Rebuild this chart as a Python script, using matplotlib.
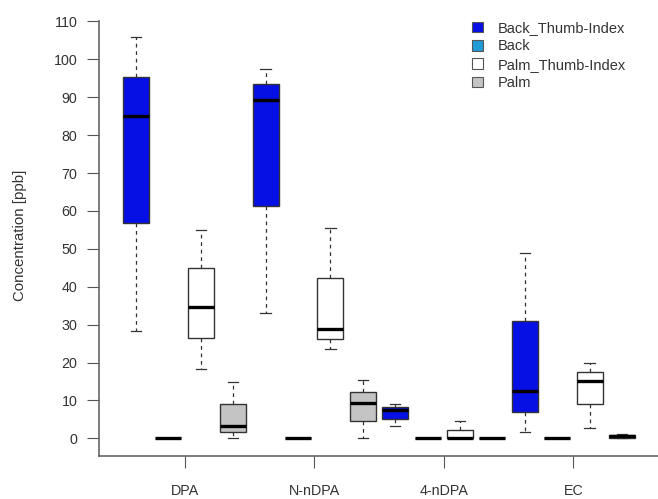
import matplotlib.pyplot as plt
from matplotlib.patches import Patch

plt.rcParams['font.family'] = ['Liberation Sans', 'DejaVu Sans']

groups = ['DPA', 'N-nDPA', '4-nDPA', 'EC']
series = ['Back_Thumb-Index', 'Back', 'Palm_Thumb-Index', 'Palm']
colors = ['#0610E4', '#1E9BD7', '#FFFFFF', '#C4C4C4']

# five-number summaries per group (DPA, N-nDPA, 4-nDPA, EC)
back_ti_lo = [28.3, 33.0, 3.3, 1.7]
back_ti_q1 = [56.9, 61.3, 5.2, 7.0]
back_ti_med = [85.1, 89.4, 7.4, 12.5]
back_ti_q3 = [95.4, 93.4, 8.3, 30.9]
back_ti_hi = [105.8, 97.4, 9.1, 49.0]

back_lo = [0, 0, 0, 0]
back_q1 = [0, 0, 0, 0]
back_med = [0, 0, 0, 0]
back_q3 = [0, 0, 0, 0]
back_hi = [0, 0, 0, 0]

palm_ti_lo = [18.3, 23.5, 0, 2.6]
palm_ti_q1 = [26.5, 26.1, 0, 9.0]
palm_ti_med = [34.6, 28.8, 0.1, 15.1]
palm_ti_q3 = [44.9, 42.2, 2.2, 17.4]
palm_ti_hi = [55.1, 55.5, 4.6, 19.8]

palm_lo = [0, 0, 0, 0]
palm_q1 = [1.7, 4.6, 0, 0.2]
palm_med = [3.3, 9.2, 0, 0.5]
palm_q3 = [9.05, 12.1, 0, 0.9]
palm_hi = [14.9, 15.4, 0, 1.1]

stats_by_series = [
    (back_ti_lo, back_ti_q1, back_ti_med, back_ti_q3, back_ti_hi),
    (back_lo, back_q1, back_med, back_q3, back_hi),
    (palm_ti_lo, palm_ti_q1, palm_ti_med, palm_ti_q3, palm_ti_hi),
    (palm_lo, palm_q1, palm_med, palm_q3, palm_hi),
]

fig = plt.figure(figsize=(6.58, 4.99), dpi=100)
ax = fig.add_axes([99 / 658, 43 / 499, 559 / 658, 0.886])

for g in range(len(groups)):
    for s, (lo, q1, med, q3, hi) in enumerate(stats_by_series):
        pos = 4 * g + s + 1
        st = [dict(whislo=lo[g], q1=q1[g], med=med[g], q3=q3[g], whishi=hi[g], fliers=[])]
        ax.bxp(st, positions=[pos], widths=0.8, capwidths=0.32, patch_artist=True,
               manage_ticks=False,
               boxprops=dict(facecolor=colors[s], edgecolor='#333333', linewidth=1.0),
               medianprops=dict(color='black', linewidth=2.4, solid_capstyle='butt'),
               whiskerprops=dict(color='#333333', linewidth=0.9, linestyle=(0, (3, 3))),
               capprops=dict(color='#333333', linewidth=0.9))

ax.set_xlim(-0.142, 17.11)
ax.set_ylim(-4.67, 112)
ax.set_xticks([2.5, 6.5, 10.5, 14.5])
ax.set_xticklabels(groups, fontsize=10.3)
ax.set_yticks(range(0, 111, 10))
ax.tick_params(axis='y', labelsize=10.3, length=8.5, pad=7, color='#555555', labelcolor='#333333')
ax.tick_params(axis='x', length=8.5, pad=12, color='#555555', labelcolor='#333333')
ax.spines['top'].set_visible(False)
ax.spines['right'].set_visible(False)
ax.spines['left'].set_bounds(-4.67, 110)
for sp in ('left', 'bottom'):
    ax.spines[sp].set_color('#666666')
    ax.spines[sp].set_linewidth(1.2)
ax.set_ylabel('Concentration [ppb]', fontsize=10.8, color='#333333', labelpad=19)

handles = [Patch(facecolor=c, edgecolor='#555555', linewidth=0.8) for c in colors]
ax.legend(handles, series, loc='upper left', bbox_to_anchor=(472 / 658, 1 - 21 / 499),
          bbox_transform=fig.transFigure, frameon=False, fontsize=10.5,
          handlelength=0.75, handleheight=0.75, handletextpad=1.0, labelspacing=0.3,
          borderaxespad=0, borderpad=0, labelcolor='#333333')

fig.savefig('out.png', dpi=100)
